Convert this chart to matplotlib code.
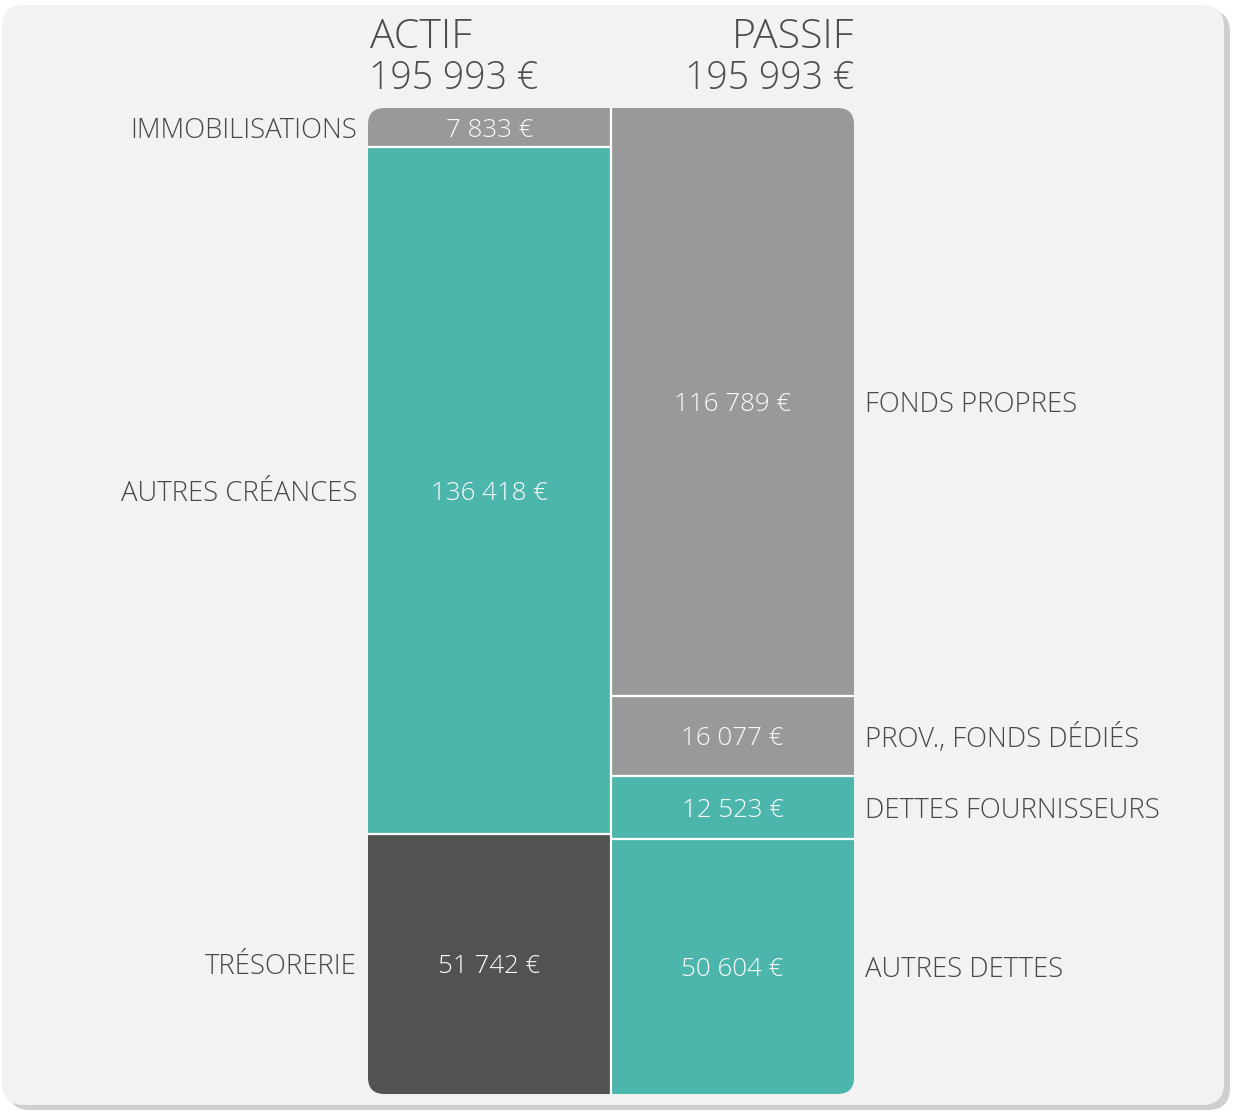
import matplotlib.pyplot as plt
import matplotlib.transforms as mtransforms
import numpy as np
from matplotlib.patches import FancyBboxPatch

plt.rcParams['font.family'] = ['Open Sans', 'DejaVu Sans']

# Données du bilan
colonnes = ['ACTIF', 'PASSIF']
actif_postes = ['IMMOBILISATIONS', 'AUTRES CRÉANCES', 'TRÉSORERIE']
actif_valeurs = [7833, 136418, 51742]
passif_postes = ['FONDS PROPRES', 'PROV., FONDS DÉDIÉS', 'DETTES FOURNISSEURS', 'AUTRES DETTES']
passif_valeurs = [116789, 16077, 12523, 50604]

GRIS = '#999999'
TEAL = '#4db6ac'
FONCE = '#525252'
TEXTE = '#484848'
actif_couleurs = [GRIS, TEAL, FONCE]
passif_couleurs = [GRIS, GRIS, TEAL, TEAL]


def fmt(v):
    return f'{v:,}'.replace(',', ' ') + ' €'


W, H = 1234, 1113
fig = plt.figure(figsize=(W / 100, H / 100), dpi=100)
fig.patch.set_facecolor('white')

# Panneau de fond (ombre + carte arrondie), en pixels
px = mtransforms.IdentityTransform()
ombre = FancyBboxPatch((8, H - 1110), 1222, 1100, boxstyle='round,pad=0,rounding_size=22',
                       transform=px, facecolor='#cfcfcf', edgecolor='none', zorder=-2)
carte = FancyBboxPatch((2, H - 1105), 1222, 1100, boxstyle='round,pad=0,rounding_size=22',
                       transform=px, facecolor='#f2f2f2', edgecolor='none', zorder=-1)
fig.patches.extend([ombre, carte])

# Zone des barres
ax = fig.add_axes([368 / W, 19 / H, 486 / W, 986 / H])
ax.set_facecolor('none')
total = sum(actif_valeurs)
ax.set_xlim(-0.5, 1.5)
ax.set_ylim(total, 0)
ax.axis('off')

clip = FancyBboxPatch((0, 0), 1, 1, boxstyle='round,pad=0,rounding_size=0.034',
                      mutation_aspect=486 / 986, transform=ax.transAxes,
                      facecolor='none', edgecolor='none')

colonnes_data = [(actif_postes, actif_valeurs, actif_couleurs),
                 (passif_postes, passif_valeurs, passif_couleurs)]

for i, (postes, valeurs, couleurs) in enumerate(colonnes_data):
    bas = np.concatenate([[0], np.cumsum(valeurs)[:-1]])
    barres = ax.bar([i] * len(valeurs), valeurs, bottom=bas, width=1.0,
                    color=couleurs, linewidth=0)
    for b in barres:
        b.set_clip_path(clip)
    # séparateurs blancs
    for y in bas[1:]:
        ax.plot([i - 0.5, i + 0.5], [y, y], color='white', lw=1.6, solid_capstyle='butt')
    for nom, v, y0 in zip(postes, valeurs, bas):
        yc = y0 + v / 2
        ax.text(i, yc, fmt(v), ha='center', va='center_baseline',
                color='#fafafa', fontsize=18.6, fontweight='light')
        if i == 0:
            ax.annotate(nom, xy=(-0.5, yc), xytext=(-8, 0), textcoords='offset points',
                        ha='right', va='center_baseline', color=TEXTE, fontsize=19.8,
                        fontweight='light', annotation_clip=False)
        else:
            ax.annotate(nom, xy=(1.5, yc), xytext=(8, 0), textcoords='offset points',
                        ha='left', va='center_baseline', color=TEXTE, fontsize=19.8,
                        fontweight='light', annotation_clip=False)

ax.axvline(0.5, color='white', lw=1.6)

# En-têtes
fig.text(370 / W, 1 - 48 / H, colonnes[0], ha='left', va='baseline',
         fontsize=29.5, color='#4d4d4d', fontweight='light')
fig.text(369 / W, 1 - 89 / H, fmt(sum(actif_valeurs)), ha='left', va='baseline',
         fontsize=27, color='#4d4d4d', fontweight='light')
fig.text(854 / W, 1 - 48 / H, colonnes[1], ha='right', va='baseline',
         fontsize=29.5, color='#4d4d4d', fontweight='light')
fig.text(854 / W, 1 - 89 / H, fmt(sum(passif_valeurs)), ha='right', va='baseline',
         fontsize=27, color='#4d4d4d', fontweight='light')

fig.savefig('out.png', dpi=100, facecolor=fig.get_facecolor())
